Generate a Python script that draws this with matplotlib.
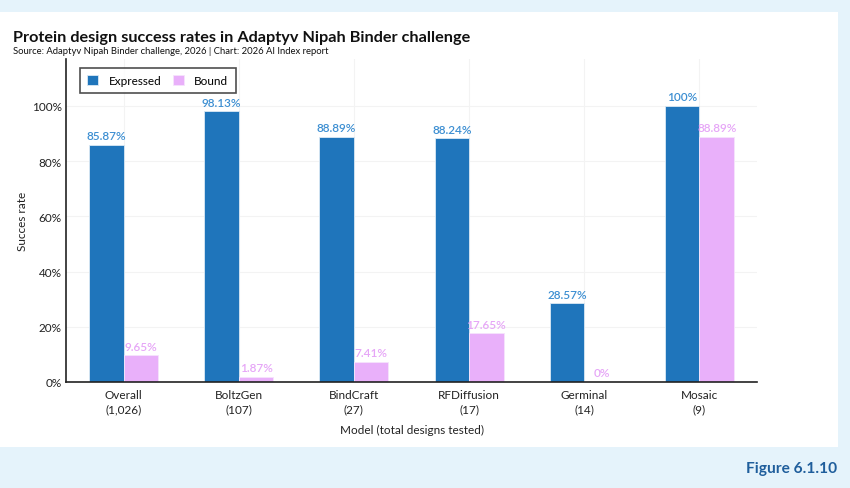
import matplotlib
matplotlib.use("Agg")
import matplotlib.pyplot as plt
import numpy as np
from matplotlib.patches import Rectangle

plt.rcParams["font.family"] = ["Lato", "DejaVu Sans"]

models = ["Overall", "BoltzGen", "BindCraft", "RFDiffusion", "Germinal", "Mosaic"]
designs = ["1,026", "107", "27", "17", "14", "9"]
expressed = [85.87, 98.13, 88.89, 88.24, 28.57, 100]
bound = [9.65, 1.87, 7.41, 17.65, 0, 88.89]

EXP_COLOR = "#1f75bb"
BND_COLOR = "#e9b0fa"
EXP_TEXT = "#3d8fd2"
BND_TEXT = "#e6a6f7"
BG = "#e5f3fb"

fig = plt.figure(figsize=(8.5, 4.89), dpi=100)
fig.patch.set_facecolor(BG)
# white panel behind the chart
fig.patches.append(Rectangle((0, 41 / 489), 838 / 850, (476 - 41) / 489,
                             transform=fig.transFigure, facecolor="white",
                             edgecolor="none", zorder=-5))

ax = fig.add_axes([66 / 850, 1 - 383 / 489, 691 / 850, 323 / 489])
ax.set_zorder(2)
ax.set_facecolor("none")

x = np.arange(len(models))
w = 0.3
ax.bar(x - w / 2, expressed, w, color=EXP_COLOR, label="Expressed", zorder=2,
       edgecolor="#dbe9f5", linewidth=0.6)
ax.bar(x + w / 2, bound, w, color=BND_COLOR, label="Bound", zorder=2,
       edgecolor="#f6e4fc", linewidth=0.6)

for xi, v in zip(x, expressed):
    ax.text(xi - w / 2, v + 1.3, f"{v:g}%", ha="center", va="bottom",
            fontsize=8.5, color=EXP_TEXT, fontweight="semibold")
for xi, v in zip(x, bound):
    ax.text(xi + w / 2, v + 1.3, f"{v:g}%", ha="center", va="bottom",
            fontsize=8.5, color=BND_TEXT, fontweight="semibold")

ax.set_xlim(-0.5, len(models) - 0.5)
ax.set_ylim(0, 117)
ax.set_yticks([0, 20, 40, 60, 80, 100])
ax.set_yticklabels([f"{t}%" for t in [0, 20, 40, 60, 80, 100]])
ax.set_xticks(x)
ax.set_xticklabels([f"{m}\n({d})" for m, d in zip(models, designs)],
                   linespacing=1.4)
ax.tick_params(axis="both", length=0, labelsize=8.5, colors="#222222")
ax.tick_params(axis="x", pad=5)
ax.tick_params(axis="y", pad=3)
ax.grid(True, color="#f3f3f3", linewidth=0.8, zorder=0)
for s in ["top", "right"]:
    ax.spines[s].set_visible(False)
for s in ["left", "bottom"]:
    ax.spines[s].set_color("#222222")
    ax.spines[s].set_linewidth(1.2)

ax.set_ylabel("Succes rate", fontsize=8.5, color="#222222", labelpad=3)
ax.set_xlabel("Model (total designs tested)", fontsize=8.5, color="#222222", labelpad=7)

leg = ax.legend(loc="upper left", bbox_to_anchor=(0.012, 0.99), ncol=2,
                frameon=True, fancybox=False, fontsize=8.5, handlelength=0.9,
                handleheight=0.9, columnspacing=1.0, borderpad=0.6,
                handletextpad=0.9, borderaxespad=0.5)
leg.get_frame().set_edgecolor("#222222")
leg.get_frame().set_linewidth(1.2)

fig.text(13 / 850, 1 - 38 / 489, "Protein design success rates in Adaptyv Nipah Binder challenge",
         fontsize=11.7, fontweight="bold", color="#111111", va="center")
fig.text(13 / 850, 1 - 52 / 489, "Source: Adaptyv Nipah Binder challenge, 2026 | Chart: 2026 AI Index report",
         fontsize=6.8, color="#111111", va="center")
fig.text(837 / 850, 1 - 469 / 489, "Figure 6.1.10", fontsize=11.2, fontweight="bold",
         color="#1f5e9c", ha="right", va="center")

fig.savefig("out.png", dpi=100, facecolor=BG)
